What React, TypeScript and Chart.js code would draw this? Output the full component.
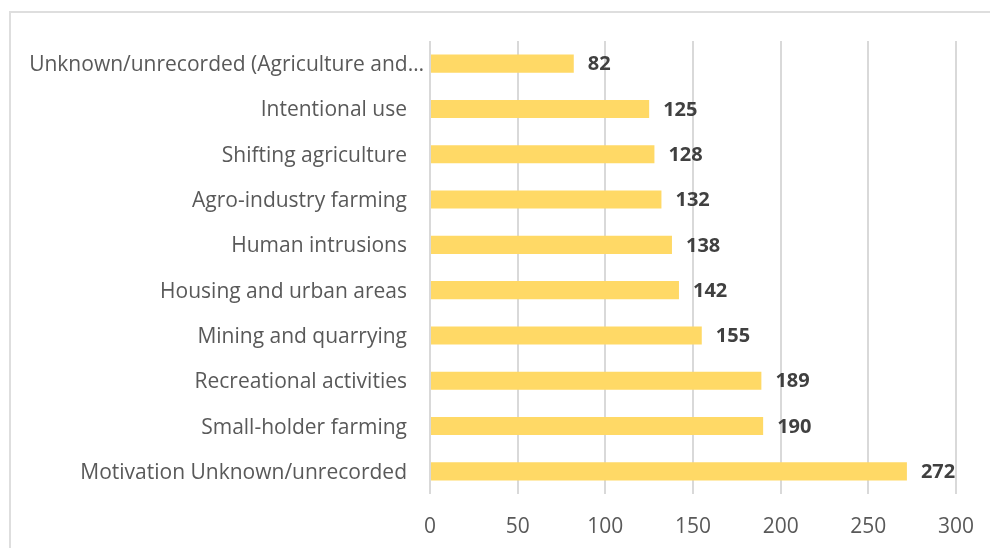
import React, { useEffect, useRef } from "react";
import { Chart, registerables } from "chart.js";

Chart.register(...registerables);

const categories = [
  "Unknown/unrecorded (Agriculture and…",
  "Intentional use",
  "Shifting agriculture",
  "Agro-industry farming",
  "Human intrusions",
  "Housing and urban areas",
  "Mining and quarrying",
  "Recreational activities",
  "Small-holder farming",
  "Motivation Unknown/unrecorded",
];
const values = [82, 125, 128, 132, 138, 142, 155, 189, 190, 272];
const xMin = 0;
const xMax = 300;
const xStep = 50;

const FONT = "'Open Sans', sans-serif";

const dataLabelPlugin = {
  id: "dataLabels",
  afterDatasetsDraw(chart: any) {
    const ctx = chart.ctx;
    const meta = chart.getDatasetMeta(0);
    ctx.save();
    ctx.font = `bold 20px ${FONT}`;
    ctx.fillStyle = "#404040";
    ctx.textAlign = "left";
    ctx.textBaseline = "middle";
    meta.data.forEach((el: any, i: number) => {
      ctx.fillText(String(values[i]), el.x + 14, el.y + 1);
    });
    ctx.restore();
  },
};

const categoryLabelPlugin = {
  id: "categoryLabels",
  afterDraw(chart: any) {
    const ctx = chart.ctx;
    const yScale = chart.scales.y;
    const area = chart.chartArea;
    ctx.save();
    ctx.font = `21px ${FONT}`;
    ctx.fillStyle = "#595959";
    ctx.textAlign = "right";
    ctx.textBaseline = "middle";
    categories.forEach((label, i) => {
      const y = yScale.getPixelForTick(i);
      const right = label.endsWith("…") ? area.left - 6 : area.left - 23;
      ctx.fillText(label, right, y + 1.5);
    });
    ctx.restore();
  },
};

export default function App() {
  const ref = useRef<HTMLCanvasElement>(null);
  useEffect(() => {
    if (!ref.current) return;
    const chart = new Chart(ref.current, {
      type: "bar",
      data: {
        labels: categories,
        datasets: [
          {
            data: values,
            backgroundColor: "#FFD966",
            borderWidth: 0,
            barPercentage: 0.8,
            categoryPercentage: 0.5,
          },
        ],
      },
      options: {
        indexAxis: "y",
        responsive: false,
        animation: false,
        devicePixelRatio: 1,
        layout: { padding: { top: 41, right: 34, left: 0, bottom: 0 } },
        plugins: {
          legend: { display: false },
          tooltip: { enabled: false },
        },
        scales: {
          x: {
            min: xMin,
            max: xMax,
            ticks: {
              stepSize: xStep,
              color: "#595959",
              font: { family: FONT, size: 21 },
              padding: 20,
              maxRotation: 0,
            },
            grid: { color: "#d9d9d9", lineWidth: 2, drawTicks: false },
            border: { display: false },
            afterFit: (s: any) => {
              s.height = 54;
              s.paddingRight = 0;
              s.paddingLeft = 0;
            },
          },
          y: {
            ticks: { display: false, autoSkip: false },
            grid: { display: false, drawTicks: false },
            border: { display: false },
            afterFit: (s: any) => {
              s.width = 430;
            },
          },
        },
      },
      plugins: [dataLabelPlugin, categoryLabelPlugin],
    });
    return () => chart.destroy();
  }, []);
  return (
    <div>
      <div
        style={{
          position: "fixed",
          left: 9,
          top: 11,
          width: 2000,
          height: 2000,
          border: "2px solid #dedede",
          boxSizing: "border-box",
        }}
      />
      <canvas
        ref={ref}
        width={990}
        height={548}
        style={{ position: "fixed", left: 0, top: 0, width: 990, height: 548 }}
      />
    </div>
  );
}
